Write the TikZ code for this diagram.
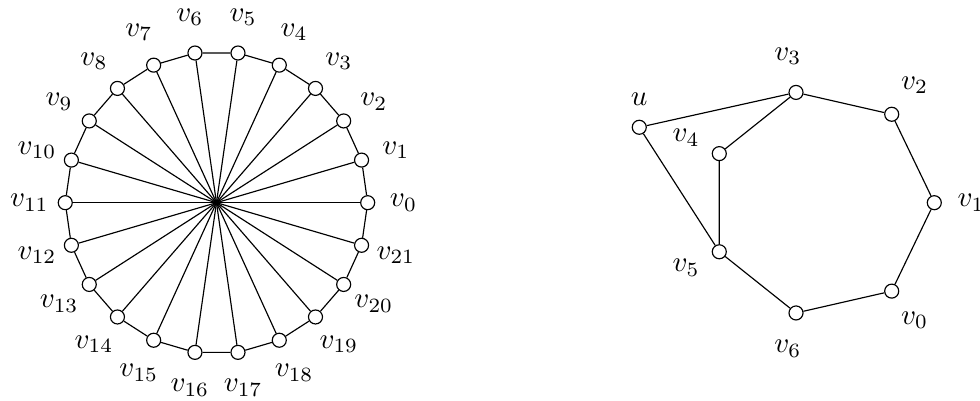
\documentclass[tikz,border=0pt]{standalone}
\usepackage{tikz}

\begin{document}
\begin{tikzpicture}[vertex/.style={draw, circle, fill=white, inner sep=0pt, minimum size=0.17cm}]
  \useasboundingbox (-2.624,-2.392) rectangle (9.255,2.457);

  % wheel with 22 spokes
  \foreach \i in {0,...,21}{
    \node[vertex] (w\i) at ({\i*360/22}:1.833) {};
    \node (lw\i) at ({\i*360/22}:2.267) {$v_{\i}$};
  }
  \foreach \i in {0,...,21}{
    \pgfmathtruncatemacro\j{mod(\i+1,22)}
    \draw (w\i) -- (w\j);
  }
  \foreach \i in {0,...,10}{
    \pgfmathtruncatemacro\j{\i+11}
    \draw (w\i) -- (w\j);
  }

  % heptagon with u
  \begin{scope}[shift={(7.33,0)}]
    \foreach \i in {0,...,6}{
      \node[vertex] (h\i) at ({(\i-1)*360/7}:1.371) {};
      \node (lh\i) at ({(\i-1)*360/7}:1.818) {$v_{\i}$};
    }
  \end{scope}
  \node[vertex] (u) at (5.125,0.914) {};
  \node (lu) at (5.125,1.254) {$u$};

  \draw (h0) -- (h1) -- (h2) -- (h3) -- (h4) -- (h5) -- (h6) -- (h0);
  \draw (u) -- (h3);
  \draw (u) -- (h5);
\end{tikzpicture}
\end{document}
